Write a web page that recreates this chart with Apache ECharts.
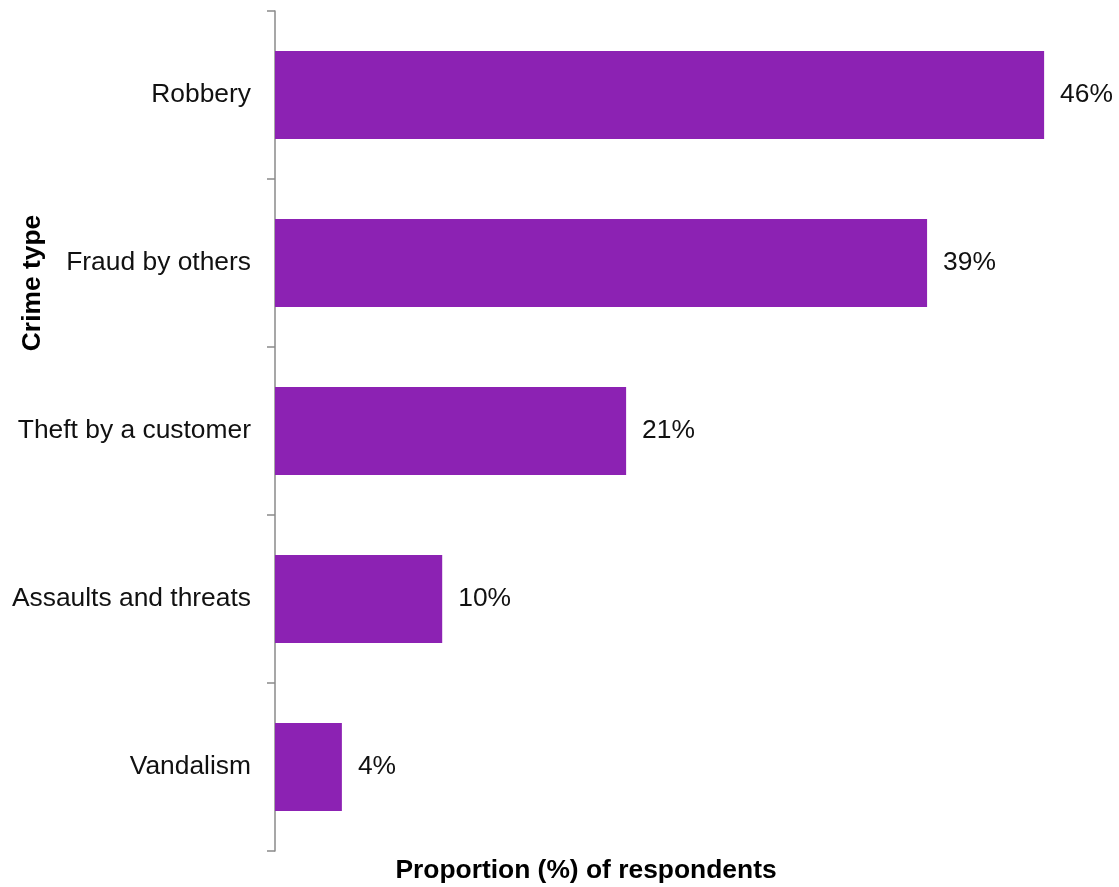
<!DOCTYPE html>
<html>
<head>
<meta charset="utf-8">
<style>
  html, body { margin: 0; padding: 0; background: #ffffff; }
  #chart { width: 1119px; height: 887px; }
</style>
<script src="https://cdn.jsdelivr.net/npm/echarts@6/dist/echarts.min.js"></script>
</head>
<body>
<div id="chart"></div>
<script>
// Crime types reported, top to bottom
const categories = ['Robbery', 'Fraud by others', 'Theft by a customer', 'Assaults and threats', 'Vandalism'];
// Share of respondents (%) for each crime type
const values = [46, 39, 21, 10, 4];

const axisTitleX = 'Proportion (%) of respondents';
const axisTitleY = 'Crime type';

const FONT = '"Liberation Sans", Arial, sans-serif';
const FS = 26.4;
const chart = echarts.init(document.getElementById('chart'), null, { renderer: 'canvas' });

chart.setOption({
  animation: false,
  backgroundColor: '#ffffff',
  grid: { left: 275, right: 8, top: 11, bottom: 36, containLabel: false },
  xAxis: {
    type: 'value',
    min: 0,
    max: 50,
    show: false
  },
  yAxis: {
    type: 'category',
    inverse: true,
    data: categories,
    axisLine: { show: true, lineStyle: { color: '#8a8a8a', width: 1.5 } },
    axisTick: { show: true, length: 8, lineStyle: { color: '#8a8a8a', width: 1.5 } },
    axisLabel: { color: '#111111', fontSize: FS, fontFamily: FONT, margin: 24, padding: [6, 0, 0, 0] },
    splitLine: { show: false }
  },
  series: [{
    type: 'bar',
    data: values,
    barWidth: 88,
    itemStyle: { color: '#8c22b3' },
    label: {
      show: true,
      position: 'right',
      distance: 16,
      color: '#111111',
      fontSize: FS,
      fontFamily: FONT,
      padding: [6, 0, 0, 0],
      formatter: p => p.value + '%'
    }
  }],
  graphic: [
    {
      type: 'text',
      x: 586,
      y: 871,
      style: {
        text: axisTitleX,
        font: 'bold ' + FS + 'px ' + FONT,
        fill: '#000000',
        textAlign: 'center',
        textVerticalAlign: 'middle'
      }
    },
    {
      type: 'text',
      x: 33,
      y: 283,
      rotation: Math.PI / 2,
      style: {
        text: axisTitleY,
        font: 'bold ' + FS + 'px ' + FONT,
        fill: '#000000',
        textAlign: 'center',
        textVerticalAlign: 'middle'
      }
    }
  ]
});
</script>
</body>
</html>
